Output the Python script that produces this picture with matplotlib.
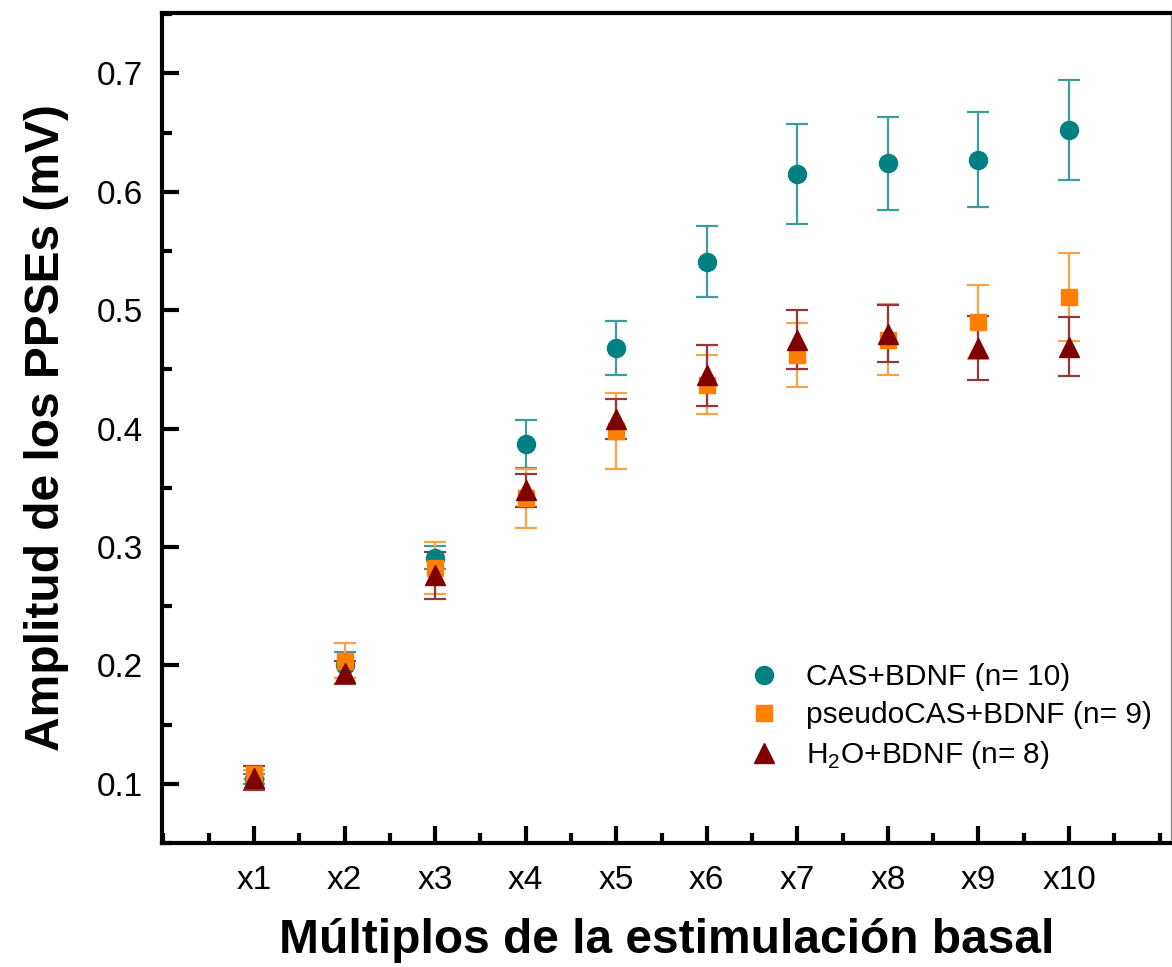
import numpy as np
import matplotlib.pyplot as plt
from matplotlib.ticker import MultipleLocator

plt.rcParams['font.family'] = ['Liberation Sans', 'DejaVu Sans']
plt.rcParams['mathtext.fontset'] = 'custom'
plt.rcParams['mathtext.rm'] = 'Liberation Sans'

# datos
multiplos = np.arange(1, 11)
etiquetas = ['x1', 'x2', 'x3', 'x4', 'x5', 'x6', 'x7', 'x8', 'x9', 'x10']

cas = [0.104, 0.200, 0.291, 0.387, 0.468, 0.541, 0.615, 0.624, 0.627, 0.652]
cas_err = [0.004, 0.011, 0.010, 0.020, 0.023, 0.030, 0.042, 0.039, 0.040, 0.042]

pseudo = [0.108, 0.204, 0.282, 0.341, 0.398, 0.437, 0.462, 0.475, 0.490, 0.511]
pseudo_err = [0.004, 0.015, 0.022, 0.025, 0.032, 0.025, 0.027, 0.030, 0.031, 0.037]

h2o = [0.105, 0.194, 0.276, 0.348, 0.408, 0.445, 0.475, 0.480, 0.468, 0.469]
h2o_err = [0.010, 0.010, 0.020, 0.014, 0.017, 0.026, 0.025, 0.024, 0.027, 0.025]

fig = plt.figure(figsize=(11.72, 9.67), dpi=100)
ax = fig.add_axes([162 / 1172, 124 / 967, 1009 / 1172, 830 / 967])

e1 = ax.errorbar(multiplos, cas, yerr=cas_err, fmt='o', color='#008080', ms=13,
                 ecolor='#3d9d9d', elinewidth=1.6, capsize=8, capthick=1.6)
e2 = ax.errorbar(multiplos, pseudo, yerr=pseudo_err, fmt='s', color='#ff8000', ms=11.5,
                 ecolor='#f7a448', elinewidth=1.6, capsize=8, capthick=1.6)
e3 = ax.errorbar(multiplos, h2o, yerr=h2o_err, fmt='^', color='#800000', ms=15,
                 ecolor='#93393c', elinewidth=1.6, capsize=8, capthick=1.6)

ax.set_xlim(-0.016, 11.126)
ax.set_ylim(0.05, 0.751)
ax.set_xticks(multiplos)
ax.set_xticklabels(etiquetas)
ax.xaxis.set_minor_locator(MultipleLocator(0.5))
ax.yaxis.set_minor_locator(MultipleLocator(0.05))
ax.set_yticks([0.1, 0.2, 0.3, 0.4, 0.5, 0.6, 0.7])

ax.tick_params(which='both', direction='in', top=False, right=False, width=3,
               labelsize=24)
ax.tick_params(which='major', length=12, pad=16)
ax.tick_params(which='minor', length=7)
ax.tick_params(axis='y', which='major', pad=14)

for lado in ['left', 'bottom', 'top']:
    ax.spines[lado].set_linewidth(3)
    ax.spines[lado].set_color('black')
ax.spines['right'].set_linewidth(1)
ax.spines['right'].set_color('#888888')

ax.set_xlabel('Múltiplos de la estimulación basal', fontsize=34.5,
              fontweight='bold', labelpad=16)
ax.set_ylabel('Amplitud de los PPSEs (mV)', fontsize=34.5,
              fontweight='bold', labelpad=20)

ax.legend([e1[0], e2[0], e3[0]],
          ['CAS+BDNF (n= 10)', 'pseudoCAS+BDNF (n= 9)', 'H$_2$O+BDNF (n= 8)'],
          loc='lower left', bbox_to_anchor=(0.57, 0.072), frameon=False,
          fontsize=21.5, handletextpad=0.9, labelspacing=0.34,
          handlelength=1.0, borderaxespad=0)

fig.savefig('out.png', dpi=100)
